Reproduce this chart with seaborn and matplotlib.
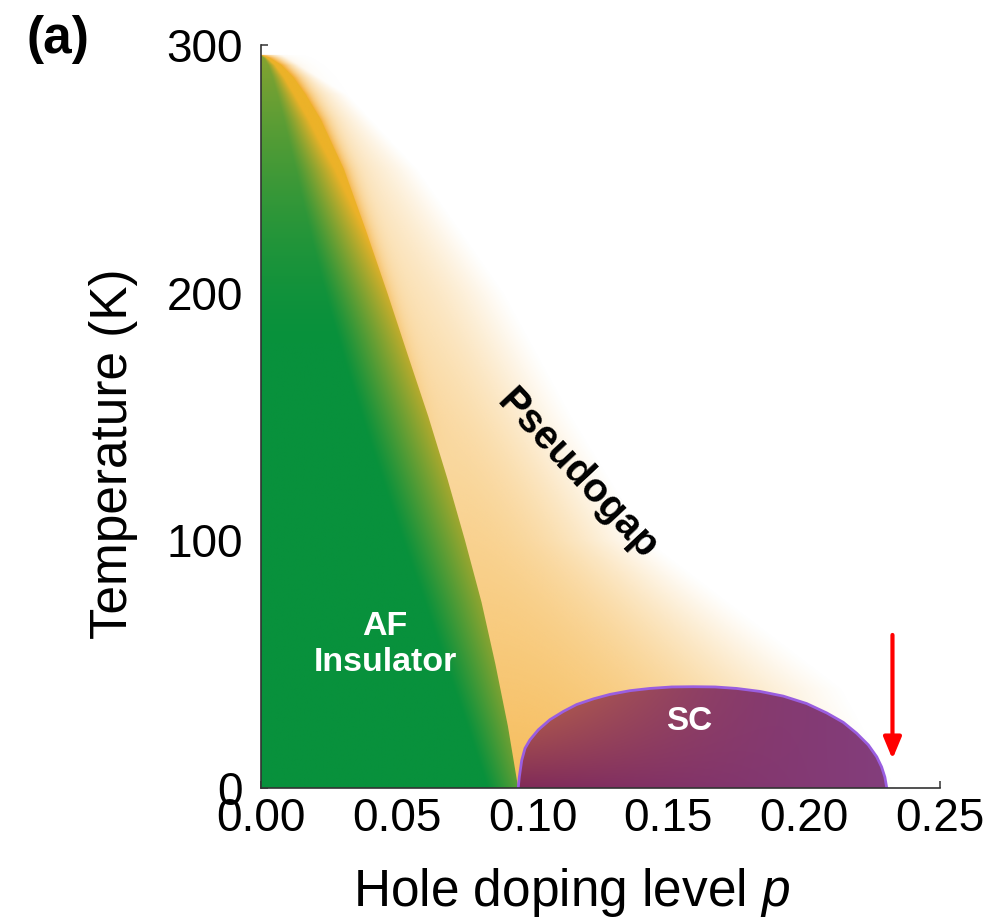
import numpy as np
import matplotlib
matplotlib.use("Agg")
import matplotlib.pyplot as plt
from matplotlib.patches import Polygon
from matplotlib.ticker import MultipleLocator
import seaborn as sns

sns.set_theme(style="ticks")
plt.rcParams['font.family'] = ['Liberation Sans', 'DejaVu Sans']
plt.rcParams['mathtext.fontset'] = 'custom'
plt.rcParams['mathtext.rm'] = 'Liberation Sans'
plt.rcParams['mathtext.it'] = 'Liberation Sans:italic'
for k in ['text.color', 'axes.labelcolor', 'xtick.color', 'ytick.color']:
    plt.rcParams[k] = 'black'

# AF insulator boundary (p, T)
af_p = [0.000, 0.003, 0.0075, 0.0120, 0.0165, 0.0220, 0.0305, 0.0387, 0.0465, 0.0540,
        0.0616, 0.0686, 0.0751, 0.0812, 0.0863, 0.0909, 0.0947]
af_T = [296, 295, 292, 287, 280, 270, 250, 225, 200, 175, 150, 125, 100, 75, 50, 25, 0]

# superconducting dome
sc_p = [0.0947, 0.0951, 0.0960, 0.0972, 0.0990, 0.1021, 0.1064, 0.1113, 0.1162, 0.1224,
        0.1285, 0.1359, 0.1432, 0.1512, 0.1592, 0.1672, 0.1751, 0.1837, 0.1923, 0.2009,
        0.2083, 0.2144, 0.2193, 0.2236, 0.2267, 0.2285, 0.2297, 0.2304]
sc_T = [0, 4.4, 11.2, 16.0, 19.4, 23.5, 27.6, 30.9, 33.7, 36.0,
        37.8, 39.3, 40.2, 40.8, 40.9, 40.8, 40.2, 39.0, 37.1, 34.1,
        30.3, 26.5, 22.1, 17.4, 12.6, 8.5, 4.4, 0]

# where the pseudogap shading fades out to white
pg_p = [0.008, 0.032, 0.058, 0.090, 0.115, 0.143, 0.215, 0.235]
pg_T = [296, 280, 250, 200, 150, 100, 40, 0]

# red arrow (p, T start -> T end)
arrow_p = 0.2325
arrow_T = [61.8, 11.7]

x_ticks = [0.0, 0.05, 0.10, 0.15, 0.20, 0.25]
x_labels = ["0.00", "0.05", "0.10", "0.15", "0.20", "0.25"]
y_ticks = [0, 100, 200, 300]
y_labels = ["0", "100", "200", "300"]

# colour fields on a grid over the axes
pp, tt = np.meshgrid(np.linspace(0, 0.25, 1000), np.linspace(0, 300, 900))
pb = np.interp(tt, af_T[::-1], af_p[::-1])
po = np.interp(tt, pg_T[::-1], pg_p[::-1])
u = np.clip(tt / af_T[0], 0, 1)

# pseudogap: orange fading away from the AF edge
s = np.clip((pp - pb) / (po - pb), 0, 1)
broad = (0.8 - 0.85 * u + 0.3 * u ** 2) * (1 - s ** 2) ** 1.3
narrow = 0.8 * np.clip((u - 0.45) / 0.55, 0, 1) * np.exp(-np.clip(pp - pb, 0, None) / 0.003)
pg_alpha = np.clip(broad + narrow, 0, 0.95)
pg_alpha[tt > af_T[0]] = 0
orange = np.array([244, 172, 50]) / 255
pg_img = np.zeros(pp.shape + (4,))
pg_img[..., :3] = orange
pg_img[..., 3] = pg_alpha

# AF: green turning olive / yellow toward its edge
f = np.where(pb > 1e-4, pp / np.maximum(pb, 1e-4), 1.0)
a = 0.88 - 0.55 * u
mix = np.clip((f - a) / (1 - a), 0, 1) ** 1.1 * (0.35 + 0.65 * u ** 0.7)
mix = np.clip(mix + 0.55 * np.clip((tt - 180) / 116, 0, 1) ** 1.5, 0, 1)
green = np.array([8, 145, 60]) / 255
yellow = np.array([236, 178, 40]) / 255
af_img = green * (1 - mix[..., None]) + yellow * mix[..., None]

# SC: purple, browned by the pseudogap at the upper left
q = np.clip((pp - sc_p[0]) / (sc_p[-1] - sc_p[0]), 0, 1)
c_left = np.array([128, 42, 88]) / 255
c_right = np.array([132, 62, 124]) / 255
base = c_left * (1 - q[..., None]) + c_right * q[..., None]
w = pg_alpha * 0.85 * np.clip(tt / max(sc_T), 0, 1) * (1 - q) ** 1.5
sc_img = base * (1 - w[..., None]) + np.array([235, 150, 60]) / 255 * w[..., None]

fig = plt.figure(figsize=(9.92, 9.19), dpi=100)
ax = fig.add_axes([261 / 992, 131 / 919, 679 / 992, 743 / 919])
ext = [0, 0.25, 0, 300]

ax.imshow(pg_img, extent=ext, origin='lower', aspect='auto', interpolation='bilinear', zorder=0.5)

im = ax.imshow(af_img, extent=ext, origin='lower', aspect='auto', interpolation='bilinear', zorder=0.6)
im.set_clip_path(Polygon(list(zip(af_p, af_T)) + [(0, 0)], closed=True, transform=ax.transData))

im = ax.imshow(sc_img, extent=ext, origin='lower', aspect='auto', interpolation='bilinear', zorder=0.7)
im.set_clip_path(Polygon(list(zip(sc_p, sc_T)), closed=True, transform=ax.transData))

sns.lineplot(x=sc_p, y=sc_T, sort=False, estimator=None, color='#9a5ee0', lw=2, ax=ax, zorder=1)

ax.annotate('', xy=(arrow_p, arrow_T[1]), xytext=(arrow_p, arrow_T[0]),
            arrowprops=dict(arrowstyle='-|>,head_length=0.65,head_width=0.27', color='red',
                            lw=3, mutation_scale=20, shrinkA=0, shrinkB=0), zorder=3)

ax.text(0.1163, 126.5, 'Pseudogap', fontsize=29, fontweight='bold', color='black',
        rotation=-47, rotation_mode='anchor', ha='center', va='center', zorder=3)
ax.text(0.0457, 57.8, 'AF\nInsulator', fontsize=24.5, fontweight='bold', color='white',
        ha='center', va='center', linespacing=1.2, zorder=3)
ax.text(0.1576, 27, 'SC', fontsize=24, fontweight='bold', color='white',
        ha='center', va='center', zorder=3)

ax.set_xlim(0, 0.25)
ax.set_ylim(0, 300)
ax.set_xticks(x_ticks)
ax.set_xticklabels(x_labels)
ax.set_yticks(y_ticks)
ax.set_yticklabels(y_labels)
ax.xaxis.set_minor_locator(MultipleLocator(0.025))
ax.yaxis.set_minor_locator(MultipleLocator(50))
ax.tick_params(which='both', direction='in', length=5, width=1.1, color='#333333')
ax.tick_params(axis='x', which='major', labelsize=33, pad=6.5)
ax.tick_params(axis='y', which='major', labelsize=33, pad=13)
sns.despine(ax=ax)
for sp in ['left', 'bottom']:
    ax.spines[sp].set_color('#333333')
    ax.spines[sp].set_linewidth(1.2)

ax.set_xlabel('Hole doping level $p$', fontsize=37)
ax.set_ylabel('Temperature (K)', fontsize=37)
ax.xaxis.set_label_coords(0.458, -0.105)
ax.yaxis.set_label_coords(-0.181, 0.450)

fig.text(58 / 992, 1 - 40 / 919, '(a)', fontsize=37, fontweight='bold', ha='center', va='center')

fig.savefig('out.png', dpi=100)
